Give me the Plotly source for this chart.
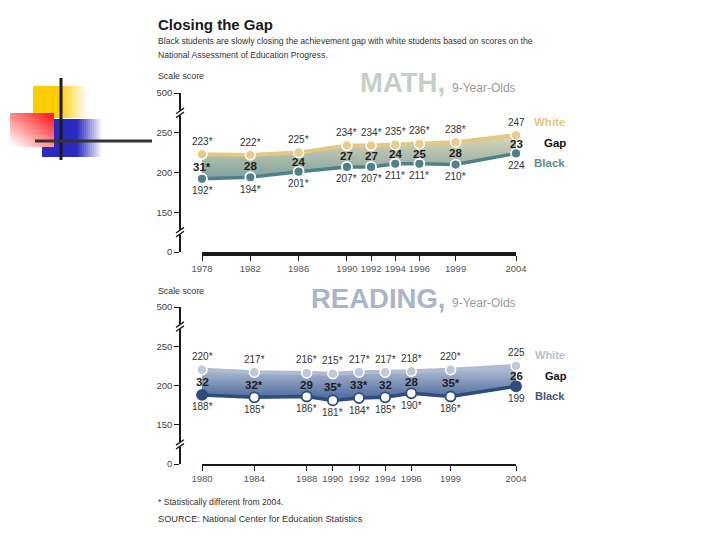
import plotly.graph_objects as go

# ---------------- data ----------------
math_years = [1978, 1982, 1986, 1990, 1992, 1994, 1996, 1999, 2004]
math_white = [223, 222, 225, 234, 234, 235, 236, 238, 247]
math_black = [192, 194, 201, 207, 207, 211, 211, 210, 224]
math_gap = [31, 28, 24, 27, 27, 24, 25, 28, 23]
math_white_sig = [1, 1, 1, 1, 1, 1, 1, 1, 0]
math_black_sig = [1, 1, 1, 1, 1, 1, 1, 1, 0]
math_gap_sig = [1, 0, 0, 0, 0, 0, 0, 0, 0]

read_years = [1980, 1984, 1988, 1990, 1992, 1994, 1996, 1999, 2004]
read_white = [220, 217, 216, 215, 217, 217, 218, 220, 225]
read_black = [188, 185, 186, 181, 184, 185, 190, 186, 199]
read_gap = [32, 32, 29, 35, 33, 32, 28, 35, 26]
read_white_sig = [1, 1, 1, 1, 1, 1, 1, 1, 0]
read_black_sig = [1, 1, 1, 1, 1, 1, 1, 1, 0]
read_gap_sig = [0, 1, 0, 1, 1, 0, 0, 1, 0]

# broken y axis: 0 and 500 are drawn compressed (display 100 and 300)
y_tickvals = [100, 150, 200, 250, 300]
y_ticktext = ["0", "150", "200", "250", "500"]

W, H = 720, 540
FONT = "Liberation Sans, Arial, sans-serif"


def px(x):
    return x / W


def py(y):
    return 1 - y / H


def lab(v, s):
    return f"{v}*" if s else f"{v}"


fig = go.Figure()
shapes = []
annotations = []

panels = [
    dict(xa="x", ya="y", years=math_years, white=math_white, black=math_black,
         gap=math_gap, ws=math_white_sig, bs=math_black_sig, gs=math_gap_sig,
         wline="#E4C782", bline="#4F8287", ftop="#DCD6B6", fbot="#7DA19F",
         wmark="#E7CC8C", bmark_fill=["#4F8287"] * 9, bmark_line="white"),
    dict(xa="x2", ya="y2", years=read_years, white=read_white, black=read_black,
         gap=read_gap, ws=read_white_sig, bs=read_black_sig, gs=read_gap_sig,
         wline="#AFBBD0", bline="#2E4C7C", ftop="#B9C4D9", fbot="#46649A",
         wmark="#BFC9D9", bmark_fill=["#2E4C7C"] + ["white"] * 7 + ["#2E4C7C"],
         bmark_line="#2E4C7C"),
]

for p in panels:
    fig.add_trace(go.Scatter(x=p["years"], y=p["black"], mode="lines",
                             line=dict(color=p["bline"], width=3.5),
                             xaxis=p["xa"], yaxis=p["ya"], showlegend=False,
                             hoverinfo="skip", cliponaxis=False))
    fig.add_trace(go.Scatter(x=p["years"], y=p["white"], mode="lines",
                             line=dict(color=p["wline"], width=4),
                             fill="tonexty",
                             fillgradient=dict(type="vertical",
                                               colorscale=[[0, p["fbot"]], [1, p["ftop"]]],
                                               start=min(p["black"]), stop=max(p["white"])),
                             xaxis=p["xa"], yaxis=p["ya"], showlegend=False,
                             hoverinfo="skip", cliponaxis=False))
    fig.add_trace(go.Scatter(x=p["years"], y=p["white"], mode="markers",
                             marker=dict(color=p["wmark"], size=10,
                                         line=dict(color="white", width=1.5)),
                             xaxis=p["xa"], yaxis=p["ya"], showlegend=False,
                             hoverinfo="skip", cliponaxis=False))
    fig.add_trace(go.Scatter(x=p["years"], y=p["black"], mode="markers",
                             marker=dict(color=p["bmark_fill"], size=10,
                                         line=dict(color=p["bmark_line"], width=1.8)),
                             xaxis=p["xa"], yaxis=p["ya"], showlegend=False,
                             hoverinfo="skip", cliponaxis=False))
    for i, yr in enumerate(p["years"]):
        annotations.append(dict(x=yr, y=p["white"][i], xref=p["xa"], yref=p["ya"],
                                text=lab(p["white"][i], p["ws"][i]), showarrow=False,
                                yshift=13, font=dict(family=FONT, size=10, color="#333")))
        annotations.append(dict(x=yr, y=p["black"][i], xref=p["xa"], yref=p["ya"],
                                text=lab(p["black"][i], p["bs"][i]), showarrow=False,
                                yshift=-12, font=dict(family=FONT, size=10, color="#333")))
        annotations.append(dict(x=yr, y=(p["white"][i] + p["black"][i]) / 2,
                                xref=p["xa"], yref=p["ya"],
                                text="<b>" + lab(p["gap"][i], p["gs"][i]) + "</b>",
                                showarrow=False,
                                font=dict(family=FONT, size=11.5, color="#1e1e1e")))

xdom = [px(202), px(516)]
common_x = dict(domain=xdom, showline=True, linecolor="#1a1a1a", ticks="outside",
                ticklen=5, tickwidth=1, tickcolor="#1a1a1a", showgrid=False,
                zeroline=False, tickangle=0, automargin=False,
                tickfont=dict(family=FONT, size=9.5, color="#555"))
common_y = dict(range=[100, 300], tickvals=y_tickvals, ticktext=y_ticktext,
                showline=True, linecolor="#1a1a1a", linewidth=1.5, ticks="outside",
                ticklen=5, tickcolor="#1a1a1a", showgrid=False, zeroline=False,
                anchor="free", position=px(180), automargin=False,
                tickfont=dict(family=FONT, size=9.5, color="#444"))

fig.update_layout(
    width=W, height=H, margin=dict(l=0, r=0, t=0, b=0, pad=0), autosize=False,
    paper_bgcolor="white", plot_bgcolor="rgba(0,0,0,0)",
    xaxis=dict(common_x, range=[1978, 2004], tickvals=math_years, anchor="y",
               linewidth=3.5),
    yaxis=dict(common_y, domain=[py(252), py(93)]),
    xaxis2=dict(common_x, range=[1980, 2004], tickvals=read_years, anchor="y2",
                linewidth=2),
    yaxis2=dict(common_y, domain=[py(464), py(307)]),
)

# axis break marks
for ya in ["y", "y2"]:
    for yv in [275, 125]:
        shapes.append(dict(type="rect", xref="paper", yref=ya, x0=px(178), x1=px(183),
                           y0=yv - 3, y1=yv + 3, fillcolor="white", line=dict(width=0),
                           layer="above"))
        shapes.append(dict(type="line", xref="paper", yref=ya, x0=px(176), x1=px(184),
                           y0=yv - 6, y1=yv + 1, line=dict(color="#1a1a1a", width=1.3),
                           layer="above"))
        shapes.append(dict(type="line", xref="paper", yref=ya, x0=px(176), x1=px(184),
                           y0=yv - 1, y1=yv + 6, line=dict(color="#1a1a1a", width=1.3),
                           layer="above"))


# ---------------- decorative template graphic ----------------
def blend(rgb, a):
    r, g, b = (int(255 + (c - 255) * a) for c in rgb)
    return f"rgb({r},{g},{b})"


def rect(x0, y0, x1, y1, color):
    shapes.append(dict(type="rect", xref="paper", yref="paper",
                       x0=px(x0), x1=px(x1), y0=py(y1), y1=py(y0),
                       fillcolor=color, line=dict(width=0), layer="below"))


YEL, BLU, RED = (255, 204, 0), (42, 42, 192), (255, 16, 16)
# yellow square fading to the right
rect(33, 86, 58, 118, blend(YEL, 1))
for x in range(58, 86, 2):
    rect(x, 86, x + 2.6, 118, blend(YEL, max(0.0, 1 - (x - 58) / 28)))
# blue square fading to the right
rect(42, 119, 76, 157, blend(BLU, 1))
for x in range(76, 101, 2):
    rect(x, 119, x + 2.6, 157, blend(BLU, max(0.0, 1 - (x - 76) / 25)))
# red square, red at top-right to white at bottom-left
for gx in range(10, 54, 2):
    for gy in range(113, 147, 2):
        fx = (54 - gx) / 44
        fy = (gy - 113) / 34
        a = max(0.0, min(1.0, 1 - 0.5 * fx - 0.55 * fy))
        rect(gx, gy, min(gx + 2.6, 54), min(gy + 2.6, 147), blend(RED, a))
shapes.append(dict(type="line", xref="paper", yref="paper", x0=px(61), x1=px(61),
                   y0=py(160), y1=py(78), line=dict(color="#1a1a1a", width=3), layer="below"))
shapes.append(dict(type="line", xref="paper", yref="paper", x0=px(35), x1=px(152),
                   y0=py(141), y1=py(141), line=dict(color="#333", width=3), layer="below"))


# ---------------- texts ----------------
def txt(x, y, s, size, color="#222", xanchor="left", bold=False):
    annotations.append(dict(x=px(x), y=py(y), xref="paper", yref="paper",
                            text=f"<b>{s}</b>" if bold else s, showarrow=False,
                            xanchor=xanchor, yanchor="middle", borderpad=0,
                            font=dict(family=FONT, size=size, color=color)))


txt(157, 25, "Closing the Gap", 15, "#1a1a1a", bold=True)
txt(157, 41, "Black students are slowly closing the achievement gap with white students based on scores on the",
    8.6, "#333")
txt(157, 55, "National Assessment of Education Progress.", 8.6, "#333")
txt(157, 76, "Scale score", 8.8, "#333")
txt(157, 291, "Scale score", 8.8, "#333")
txt(446, 83, "MATH,", 27.5, "#C3D0C5", xanchor="right", bold=True)
txt(451, 88, "9-Year-Olds", 12, "#9a9a9a")
txt(446, 298, "READING,", 27.5, "#A9B5CB", xanchor="right", bold=True)
txt(451, 303, "9-Year-Olds", 12, "#9a9a9a")

txt(533, 122, "White", 11.5, "#E7C57E", bold=True)
txt(543, 143, "Gap", 11.5, "#111", bold=True)
txt(533, 163, "Black", 11.5, "#5D8C92", bold=True)
txt(534, 355, "White", 11, "#B5C0D3", bold=True)
txt(544, 376, "Gap", 11, "#111", bold=True)
txt(534, 396, "Black", 11, "#3D5A88", bold=True)

txt(157, 502, "* Statistically different from 2004.", 8.6, "#333")
txt(157, 519, "SOURCE: National Center for Education Statistics", 9.2, "#333")

fig.update_layout(shapes=shapes, annotations=annotations)
fig.write_html("out.html", config={"displayModeBar": False},
               post_script="document.body.style.margin='0';document.body.style.overflow='hidden';")
